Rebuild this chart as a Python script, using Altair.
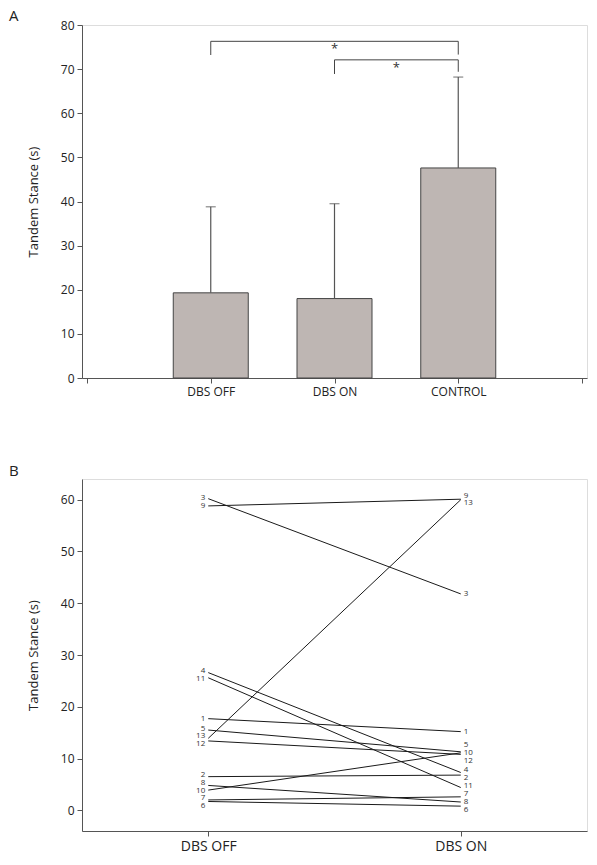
import altair as alt
import pandas as pd

# ---------- Panel A data ----------
groups = ["DBS OFF", "DBS ON", "CONTROL"]
group_pos = [1, 2, 3]
means = [19.3, 18.0, 47.6]
upper = [38.8, 39.5, 68.2]

# significance brackets: (left group pos, right group pos, level, left drop, right drop)
br_left = [1, 2]
br_right = [3, 3]
br_level = [76.3, 72.1]
br_left_end = [73.2, 68.9]
br_right_end = [73.3, 69.4]

# ---------- Panel B data ----------
subjects = [str(i) for i in range(1, 14)]
off_vals = [17.7, 6.5, 60.2, 26.6, 15.5, 1.7, 2.0, 4.8, 58.8, 3.9, 25.6, 13.4, 13.9]
on_vals = [15.2, 6.8, 41.8, 7.3, 11.3, 0.8, 2.6, 1.6, 60.1, 11.1, 4.4, 10.8, 60.0]
conds = ["DBS OFF", "DBS ON"]

FONT = "Open Sans"
AX = "#555555"
BAR = "#beb6b3"

# ---------- Panel A ----------
dfA = pd.DataFrame({"group": groups, "pos": group_pos, "mean": means, "upper": upper})

seg_x, seg_x2, seg_y, seg_y2 = [], [], [], []
star_x, star_y = [], []
for l, r, lev, le, re in zip(br_left, br_right, br_level, br_left_end, br_right_end):
    seg_x += [l, l, r]
    seg_x2 += [r, l, r]
    seg_y += [lev, le, re]
    seg_y2 += [lev, lev, lev]
    star_x.append((l + r) / 2)
    star_y.append(lev)
dfSeg = pd.DataFrame({"x": seg_x, "x2": seg_x2, "y": seg_y, "y2": seg_y2})
dfStar = pd.DataFrame({"x": star_x, "y": star_y, "t": ["*"] * len(star_x)})

label_expr = ("datum.value == 1 ? 'DBS OFF' : datum.value == 2 ? 'DBS ON' : "
              "datum.value == 3 ? 'CONTROL' : ''")
xA = alt.X("pos:Q", scale=alt.Scale(domain=[0, 4], nice=False),
           axis=alt.Axis(values=[0, 1, 2, 3, 4], labelExpr=label_expr, title=None,
                         grid=False, tickSize=5, labelPadding=3, labelFontSize=12,
                         labelFont=FONT, labelColor="#222", domainColor=AX, tickColor=AX))
yA = alt.Y("mean:Q", scale=alt.Scale(domain=[0, 80], nice=False),
           axis=alt.Axis(values=list(range(0, 81, 10)), title="Tandem Stance (s)", grid=False,
                         tickSize=5, labelPadding=3, labelFontSize=12, labelFont=FONT,
                         labelColor="#222", titleFont=FONT, titleFontSize=13,
                         titleFontWeight="normal", titleColor="#222", titlePadding=20,
                         domainColor=AX, tickColor=AX))

bars = alt.Chart(dfA).mark_bar(size=75, color=BAR, stroke="#444", strokeWidth=1).encode(x=xA, y=yA)
err = alt.Chart(dfA).mark_rule(color=AX, strokeWidth=1.2).encode(
    x="pos:Q", y="mean:Q", y2="upper:Q")
cap = alt.Chart(dfA).mark_tick(color=AX, thickness=1.2, size=10, orient="horizontal").encode(
    x="pos:Q", y="upper:Q")
brk = alt.Chart(dfSeg).mark_rule(color="#444", strokeWidth=1).encode(
    x="x:Q", x2="x2:Q", y="y:Q", y2="y2:Q")
stars = alt.Chart(dfStar).mark_text(font=FONT, fontSize=13, baseline="top", dy=2,
                                    color="#333").encode(x="x:Q", y="y:Q", text="t:N")

panelA = alt.layer(bars, err, cap, brk, stars).properties(
    width=505, height=353,
    title=alt.Title("A", anchor="start", frame="group", dx=-73, fontSize=15,
                    fontWeight="normal", font=FONT, color="#222", offset=-5))

# ---------- Panel B ----------
rows = []
for s, a, b in zip(subjects, off_vals, on_vals):
    rows.append({"id": s, "cond": conds[0], "value": a})
    rows.append({"id": s, "cond": conds[1], "value": b})
dfB = pd.DataFrame(rows)


def spread(vals, ids, gap):
    order = sorted(range(len(vals)), key=lambda i: (-vals[i], int(ids[i])))
    pos = [vals[i] for i in order]
    for _ in range(300):
        for k in range(1, len(pos)):
            d = pos[k - 1] - pos[k]
            if d < gap:
                sh = (gap - d) / 2
                pos[k - 1] += sh
                pos[k] -= sh
    out = [0.0] * len(vals)
    for j, i in enumerate(order):
        out[i] = pos[j]
    return out


GAP = 1.5
lab_off = spread(off_vals, subjects, GAP)
lab_on = spread(on_vals, subjects, GAP)
dfLabOff = pd.DataFrame({"id": subjects, "cond": conds[0], "ly": lab_off})
dfLabOn = pd.DataFrame({"id": subjects, "cond": conds[1], "ly": lab_on})

xB = alt.X("cond:N", scale=alt.Scale(type="point", domain=conds, padding=0.5),
           axis=alt.Axis(title=None, labelAngle=0, grid=False, tickSize=5, labelPadding=3,
                         labelFontSize=14, labelFont=FONT, labelColor="#222",
                         domainColor=AX, tickColor=AX))
yB = alt.Y("value:Q", scale=alt.Scale(domain=[-4, 64], nice=False, zero=False),
           axis=alt.Axis(values=list(range(0, 61, 10)), title="Tandem Stance (s)", grid=False,
                         tickSize=5, labelPadding=3, labelFontSize=12, labelFont=FONT,
                         labelColor="#222", titleFont=FONT, titleFontSize=13,
                         titleFontWeight="normal", titleColor="#222", titlePadding=20,
                         domainColor=AX, tickColor=AX))

lines = alt.Chart(dfB).mark_line(color="#1a1a1a", strokeWidth=1).encode(
    x=xB, y=yB, detail="id:N")
labOff = alt.Chart(dfLabOff).mark_text(font=FONT, fontSize=8, align="right", dx=-3,
                                       baseline="middle", color="#333").encode(
    x="cond:N", y="ly:Q", text="id:N")
labOn = alt.Chart(dfLabOn).mark_text(font=FONT, fontSize=8, align="left", dx=3,
                                     baseline="middle", color="#333").encode(
    x="cond:N", y="ly:Q", text="id:N")

panelB = alt.layer(lines, labOff, labOn).properties(
    width=505, height=352,
    title=alt.Title("B", anchor="start", frame="group", dx=-73, fontSize=15,
                    fontWeight="normal", font=FONT, color="#222", offset=0))

chart = alt.vconcat(panelA, panelB, spacing=65).properties(padding=0).configure_view(
    stroke=AX, strokeWidth=1.2).configure(background="white")

chart.save("out.html", embed_options={"renderer": "svg", "actions": False})
